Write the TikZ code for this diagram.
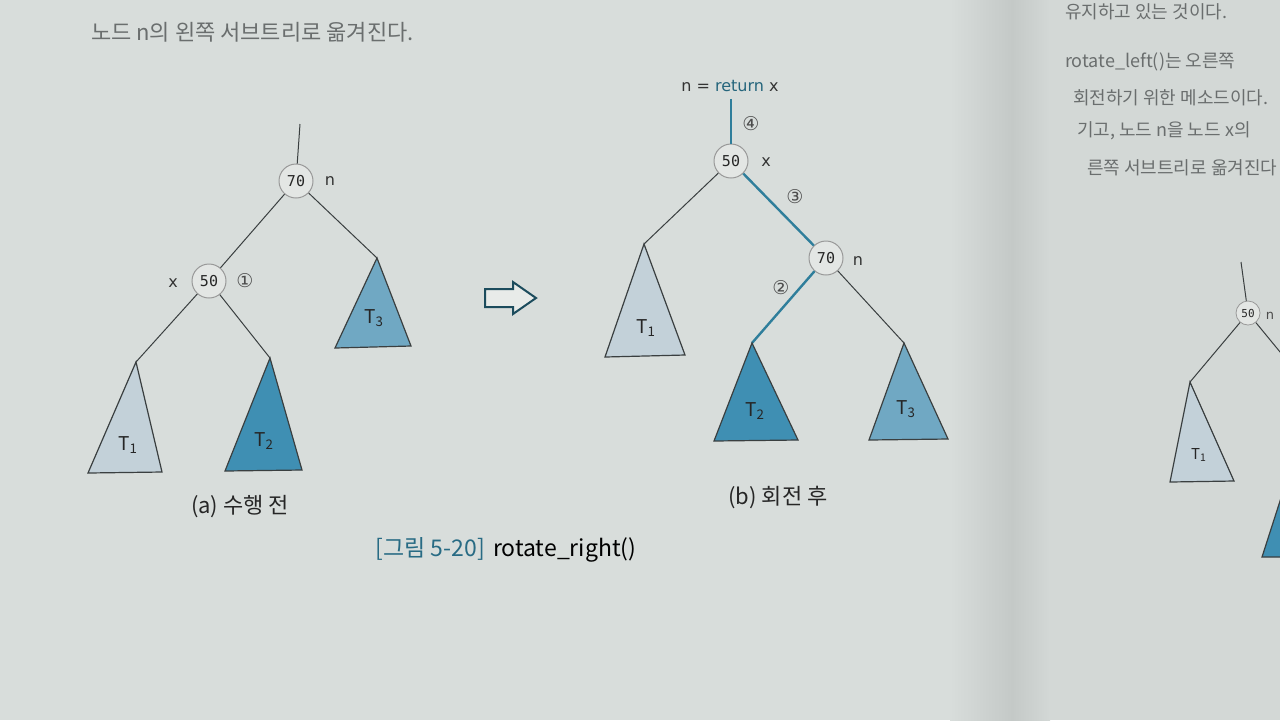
\documentclass[tikz,border=0pt]{standalone}
\usepackage{fontspec}
\setmainfont{Noto Sans CJK KR}
\newfontfamily\krfont{Noto Sans CJK KR}
\newfontfamily\monofont{DejaVu Sans Mono}
\newfontfamily\symfont{DejaVu Sans}
\usetikzlibrary{calc}
\definecolor{pageL}{HTML}{D8DDDB}
\definecolor{pageR}{HTML}{D3D8D6}
\definecolor{spine}{HTML}{C4C9C7}
\definecolor{tone}{HTML}{C3D1D9}
\definecolor{ttwo}{HTML}{3F8FB3}
\definecolor{tthree}{HTML}{70A8C3}
\definecolor{teal}{HTML}{2F7E9B}
\definecolor{nodefill}{HTML}{E3E6E4}
\definecolor{edgecol}{HTML}{3A3F40}
\definecolor{pagetext}{HTML}{6A6E6E}
\newcommand{\tsub}[2]{#1\textsubscript{#2}}
\tikzset{
  x=0.5pt, y=-0.5pt,
  treenode/.style={circle, draw=gray!80, line width=0.5pt, fill=nodefill, minimum size=17pt, inner sep=0pt, font=\monofont\fontsize{7.5}{8}\selectfont, text=black!85},
  smallnode/.style={circle, draw=gray!80, line width=0.4pt, fill=nodefill, minimum size=12pt, inner sep=0pt, font=\monofont\fontsize{5.5}{6}\selectfont, text=black!85},
  varlab/.style={font=\symfont\fontsize{8}{9}\selectfont, text=black!80},
  circlab/.style={font=\symfont\fontsize{9.5}{10}\selectfont, text=black!70},
  edge/.style={draw=edgecol, line width=0.5pt},
  tealedge/.style={draw=teal, line width=1.2pt},
  tri/.style={draw=edgecol, line width=0.6pt, line join=miter},
  tlab/.style={font=\krfont\fontsize{9.5}{10}\selectfont, text=black!85},
  subcap/.style={font=\krfont\fontsize{11}{12}\selectfont, text=black!85},
  pagetxt/.style={font=\krfont\fontsize{9}{11}\selectfont, text=pagetext, anchor=west}
}
\begin{document}
\begin{tikzpicture}
\useasboundingbox (0,0) rectangle (1280,720);
% page background
\fill[pageL] (0,0) rectangle (1000,720);
\fill[pageR] (1000,0) rectangle (1280,720);
\shade[left color=pageL, right color=spine] (950,0) rectangle (1012,720);
\shade[left color=spine, right color=pageR] (1012,0) rectangle (1050,720);

% page text (partially visible)
\node[pagetxt, font=\krfont\fontsize{11}{12}\selectfont] (ptA) at (84,32) {노드 n의 왼쪽 서브트리로 옮겨진다.};
\node[pagetxt] (ptB) at (1058,12) {유지하고 있는 것이다.};
\node[pagetxt] (ptC) at (1058,62) {rotate\_left()는 오른쪽};
\node[pagetxt] (ptD) at (1066,98) {회전하기 위한 메소드이다.};
\node[pagetxt] (ptE) at (1070,131) {기고, 노드 n을 노드 x의};
\node[pagetxt] (ptF) at (1080,168) {른쪽 서브트리로 옮겨진다};

% ===== (a) before =====
\coordinate (aTop) at (300,124);
\node[treenode] (a70) at (296,181) {70};
\node[varlab] (a70n) at (330,181) {n};
\node[treenode] (a50) at (209,281) {50};
\node[varlab] (a50x) at (173,283) {x};
\node[circlab] (a50c) at (245,281) {①};
\coordinate (aT1) at (136,362);
\coordinate (aT2) at (270,358);
\coordinate (aT3) at (377,258);
\draw[edge] (aTop) -- (a70);
\draw[edge] (a70) -- (a50);
\draw[edge] (a70) -- (aT3);
\draw[edge] (a50) -- (aT1);
\draw[edge] (a50) -- (aT2);
\filldraw[tri, fill=tone] (aT1) -- (88,473) -- (162,472) -- cycle;
\filldraw[tri, fill=ttwo] (aT2) -- (225,471) -- (302,470) -- cycle;
\filldraw[tri, fill=tthree] (aT3) -- (335,348) -- (411,346) -- cycle;
\node[tlab] (aT1l) at (128,445) {\tsub{T}{1}};
\node[tlab] (aT2l) at (264,441) {\tsub{T}{2}};
\node[tlab] (aT3l) at (374,318) {\tsub{T}{3}};
\node[subcap] (capA) at (240,507) {(a) 수행 전};

% ===== arrow =====
\filldraw[draw=teal!60!black, fill=pageL!60!white, line width=1pt, line join=miter]
  (485,289) -- (513,289) -- (513,282) -- (536,298) -- (513,314) -- (513,307) -- (485,307) -- cycle;

% ===== (b) after =====
\node[font=\symfont\fontsize{8}{9}\selectfont, text=black!80] (ret) at (730,86) {n = {\color{teal!80!black}return} x};
\node[treenode] (b50) at (731,161) {50};
\node[varlab] (b50x) at (766,162) {x};
\node[treenode] (b70) at (826,258) {70};
\node[varlab] (b70n) at (858,261) {n};
\node[circlab] (c4) at (751,124) {④};
\node[circlab] (c3) at (795,197) {③};
\node[circlab] (c2) at (781,288) {②};
\coordinate (bT1) at (644,244);
\coordinate (bT2) at (752,343);
\coordinate (bT3) at (904,343);
\draw[tealedge] (ret.south -| b50) -- (b50);
\draw[edge] (b50) -- (bT1);
\draw[tealedge] (b50) -- (b70);
\draw[tealedge] (b70) -- (bT2);
\draw[edge] (b70) -- (bT3);
\filldraw[tri, fill=tone] (bT1) -- (605,357) -- (685,355) -- cycle;
\filldraw[tri, fill=ttwo] (bT2) -- (714,441) -- (798,440) -- cycle;
\filldraw[tri, fill=tthree] (bT3) -- (869,440) -- (948,439) -- cycle;
\node[tlab] (bT1l) at (646,328) {\tsub{T}{1}};
\node[tlab] (bT2l) at (755,411) {\tsub{T}{2}};
\node[tlab] (bT3l) at (906,409) {\tsub{T}{3}};
\node[subcap] (capB) at (778,497) {(b) 회전 후};

% ===== figure caption =====
\node[font=\krfont\fontsize{11.5}{12}\selectfont] (figcap) at (506,550) {{\color{teal!85!black}[그림 5-20]}\hspace{4pt}rotate\_right()};

% ===== right page partial diagram =====
\begin{scope}
\clip (1000,0) rectangle (1280,720);
\coordinate (rTop) at (1241,262);
\node[smallnode] (r50) at (1248,313) {50};
\node[font=\symfont\fontsize{6.5}{7}\selectfont, text=black!70] (r50n) at (1270,316) {n};
\coordinate (rT1) at (1190,382);
\coordinate (rR) at (1285,358);
\draw[edge] (rTop) -- (r50);
\draw[edge] (r50) -- (rT1);
\draw[edge] (r50) -- (rR);
\filldraw[tri, fill=tone] (rT1) -- (1170,482) -- (1234,481) -- cycle;
\node[tlab, font=\krfont\fontsize{7.5}{8}\selectfont] (rT1l) at (1199,455) {\tsub{T}{1}};
\filldraw[tri, fill=ttwo] (1290,470) -- (1262,557) -- (1290,557) -- cycle;
\end{scope}
\end{tikzpicture}
\end{document}
